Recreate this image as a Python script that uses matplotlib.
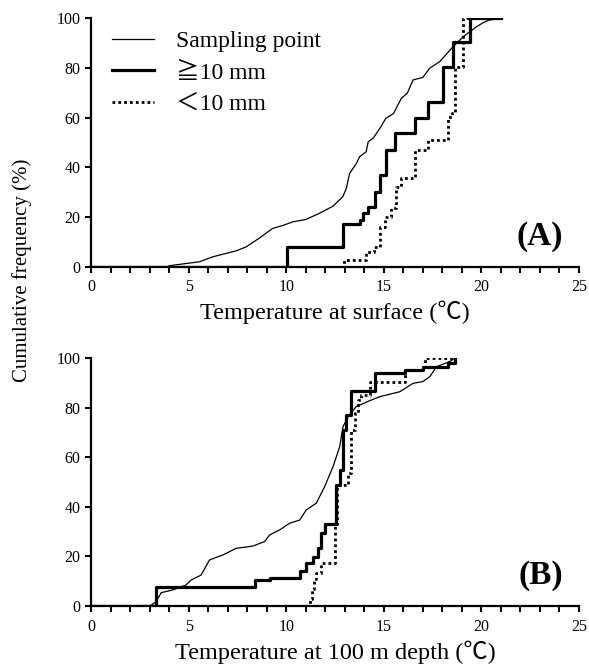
import matplotlib
matplotlib.use("Agg")
import matplotlib.pyplot as plt
from matplotlib.ticker import MultipleLocator

plt.rcParams['font.family'] = ['Liberation Serif', 'Noto Sans CJK JP', 'DejaVu Sans']

# panel A - surface temperature
a_samp_x = [4.0, 5.56, 6.24, 7.44, 7.95, 8.6, 9.3, 9.9, 10.35, 11.0, 11.7, 12.4, 12.9, 13.08, 13.25,
            13.6, 13.76, 14.1, 14.2, 14.45, 14.8, 15.1, 15.5, 15.9, 16.2, 16.5, 17.0, 17.35, 17.87,
            18.55, 19.07, 19.75, 20.1, 20.4, 21.0]
a_samp_y = [0.4, 2, 4, 6.4, 8, 11.4, 15.4, 16.8, 18.1, 19, 21.5, 24.4, 28.2, 31.5, 37.6,
            41.6, 44.3, 46.3, 50.3, 51.7, 55.7, 59.7, 61.7, 67.8, 69.8, 75.2, 76.2, 79.9, 82.6,
            88.6, 92.6, 96.6, 98.3, 99.3, 100]
a_big_x = [0, 10.04, 12.91, 13.77, 13.94, 14.19, 14.53, 14.79, 15.13, 15.56, 16.59, 17.27, 18.04,
           18.55, 19.4, 21.0]
a_big_y = [0, 7.8, 17.4, 18.8, 21.5, 23.9, 30.2, 36.9, 47.0, 53.7, 59.7, 66.4, 80.5,
           90.6, 100, 100]
a_small_x = [0, 12.96, 14.1, 14.5, 14.79, 15.05, 15.39, 15.65, 15.9, 16.6, 17.27, 18.3, 18.47,
             18.64, 19.07, 21.0]
a_small_y = [0, 2.7, 6.0, 8.0, 16.1, 20.1, 23.5, 32.2, 35.6, 47.0, 51.0, 60.4, 61.7,
             80.5, 100, 100]

# panel B - 100 m depth temperature
b_samp_x = [3.08, 3.33, 3.6, 4.19, 4.87, 5.13, 5.64, 6.07, 6.75, 7.44, 8.29, 8.89, 9.15, 9.66,
            10.17, 10.69, 11.03, 11.54, 11.97, 12.4, 12.74, 12.91, 13.17, 13.59, 14.28, 14.79,
            15.82, 16.5, 17.0, 17.36, 17.7, 18.38, 18.64]
b_samp_y = [0.4, 1.7, 5.4, 6.5, 8.5, 10.5, 12.5, 18.6, 20.6, 23.3, 24.2, 26, 28.7, 30.7,
            33.4, 34.7, 38.8, 41.5, 48.2, 56.3, 64.3, 72.4, 76.4, 80.5, 82.9, 84.5,
            86.5, 89.9, 90.6, 92.6, 96.6, 98.7, 100]
b_big_x = [0, 3.33, 8.38, 9.15, 10.69, 11.03, 11.37, 11.63, 11.8, 11.97, 12.57, 12.74, 12.91,
           13.08, 13.34, 14.53, 16.07, 17.0, 18.3, 18.64]
b_big_y = [0, 7.8, 10.5, 11.4, 14.3, 17.2, 19.9, 23.3, 29.3, 33.1, 48.9, 54.9, 71.0,
           77.1, 86.9, 93.9, 95.3, 96.6, 98.0, 100]
b_small_x = [0, 11.2, 11.3, 11.42, 11.54, 11.8, 12.48, 12.6, 13.17, 13.3, 13.5, 13.68, 13.85,
             14.28, 16.07, 17.1, 18.64]
b_small_y = [0, 3.0, 7.0, 11.0, 13.2, 17.2, 33.1, 48.9, 53.6, 71.0, 77.8, 83.2, 85.2,
             90.6, 95.3, 100, 100]

fig = plt.figure(figsize=(5.89, 6.64), dpi=100)
ax1 = fig.add_axes([0.1545, 0.5983, 0.8285, 0.3741])
ax2 = fig.add_axes([0.1545, 0.0873, 0.8285, 0.3731])

panels = [
    (ax1, a_samp_x, a_samp_y, a_big_x, a_big_y, a_small_x, a_small_y,
     "Temperature at surface (\u2103)", "(A)"),
    (ax2, b_samp_x, b_samp_y, b_big_x, b_big_y, b_small_x, b_small_y,
     "Temperature at 100 m depth (\u2103)", "(B)"),
]

for ax, sx, sy, bx, by, tx, ty, xlab, tag in panels:
    ax.plot(sx, sy, color="black", linewidth=0.9, label="Sampling point")
    ax.plot(bx, by, color="black", linewidth=2.3, drawstyle="steps-post", label="\u226710 mm")
    ax.plot(tx, ty, color="black", linewidth=2.0, linestyle=(0, (1, 1.1)),
            drawstyle="steps-post", label="\uff1c10 mm")
    ax.set_xlim(0, 25)
    ax.set_ylim(0, 100)
    ax.xaxis.set_major_locator(MultipleLocator(5))
    ax.xaxis.set_minor_locator(MultipleLocator(1))
    ax.yaxis.set_major_locator(MultipleLocator(20))
    ax.spines["top"].set_visible(False)
    ax.spines["right"].set_visible(False)
    ax.spines["left"].set_linewidth(1.6)
    ax.spines["bottom"].set_linewidth(1.6)
    ax.tick_params(which="major", direction="out", length=4, width=1.5, labelsize=11.5)
    ax.tick_params(axis="x", which="major", pad=5)
    ax.tick_params(which="minor", direction="out", length=4, width=1.4)
    ax.set_xlabel(xlab, fontsize=17.5, labelpad=4)
    ax.text(0.967, 0.088, tag, transform=ax.transAxes, ha="right", va="baseline",
            fontsize=24, fontweight="bold")

ax1.legend(loc="upper left", frameon=False, fontsize=17, handlelength=1.8,
           handletextpad=0.93, labelspacing=0.42, borderpad=0, borderaxespad=0,
           bbox_to_anchor=(0.043, 0.95))

fig.text(0.037, 0.593, "Cumulative frequency (%)", rotation=90, fontsize=15,
         ha="center", va="center")

fig.savefig("out.png", dpi=100)
